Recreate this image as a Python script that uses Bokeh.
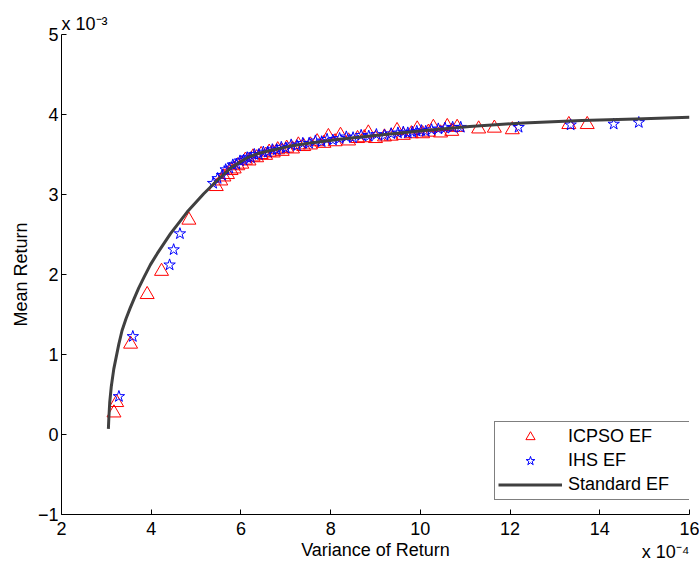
from bokeh.plotting import figure
from bokeh.models import FixedTicker, Range1d, Title
from bokeh.embed import file_html
from bokeh.resources import INLINE

# ---- data (variance in units of 1e-4, mean return in units of 1e-3) ----
x_ticks = [2, 4, 6, 8, 10, 12, 14, 16]
y_ticks = [-1, 0, 1, 2, 3, 4, 5]

std_var = [3.045, 3.055, 3.075, 3.11, 3.166, 3.278, 3.35, 3.44, 3.53, 3.612, 3.72,
           3.835, 3.98, 4.133, 4.43, 4.80, 5.17, 5.47, 5.77, 6.14, 6.40, 6.66, 7.10,
           7.55, 8.2, 9.1, 10.1, 11.1, 12.3, 13.6, 14.8, 16.0]
std_ret = [0.07, 0.20, 0.40, 0.60, 0.82, 1.13, 1.30, 1.45, 1.58, 1.69, 1.83,
           1.96, 2.12, 2.26, 2.51, 2.78, 3.01, 3.175, 3.33, 3.46, 3.515, 3.55, 3.605,
           3.645, 3.69, 3.745, 3.80, 3.85, 3.895, 3.925, 3.945, 3.965]

icpso_var = [3.17, 3.23, 3.54, 3.91, 4.23, 4.84,
             5.45, 5.55, 5.62, 5.70, 5.78, 5.85, 5.93, 6.02, 6.10, 6.18, 6.27, 6.35,
             6.45, 6.55, 6.63, 6.72, 6.82, 6.92, 7.02, 7.15, 7.28, 7.40, 7.55, 7.70,
             7.85, 7.95, 8.10, 8.22, 8.40, 8.60, 8.75, 8.84, 9.00, 9.20, 9.35, 9.48,
             9.62, 9.80, 9.93, 10.05, 10.18, 10.29, 10.45, 10.60, 10.70, 10.82,
             11.30, 11.65, 12.05, 13.31, 13.72]
icpso_ret = [0.27, 0.40, 1.13, 1.75, 2.04, 2.68,
             3.10, 3.17, 3.22, 3.25, 3.30, 3.32, 3.36, 3.38, 3.43, 3.42, 3.47, 3.46,
             3.50, 3.49, 3.53, 3.52, 3.56, 3.54, 3.58, 3.57, 3.62, 3.60, 3.62, 3.66,
             3.64, 3.725, 3.66, 3.74, 3.67, 3.70, 3.71, 3.77, 3.70, 3.72, 3.73, 3.80,
             3.74, 3.76, 3.82, 3.76, 3.78, 3.84, 3.77, 3.85, 3.79, 3.84,
             3.82, 3.83, 3.81, 3.875, 3.875]

ihs_var = [3.28, 3.59, 4.41, 4.50, 4.64,
           5.38, 5.48, 5.58, 5.66, 5.74, 5.82, 5.90, 5.98, 6.06, 6.14, 6.22, 6.30,
           6.40, 6.50, 6.60, 6.70, 6.80, 6.90, 7.00, 7.12, 7.25, 7.38, 7.52, 7.66,
           7.80, 7.92, 8.05, 8.20, 8.35, 8.50, 8.68, 8.85, 9.02, 9.20, 9.35, 9.50,
           9.62, 9.72, 9.82, 9.92, 10.02, 10.12, 10.25, 10.40, 10.55, 10.72, 10.90,
           12.19, 13.35, 14.31, 14.87]
ihs_ret = [0.475, 1.225, 2.12, 2.31, 2.51,
           3.14, 3.20, 3.24, 3.31, 3.33, 3.37, 3.38, 3.42, 3.43, 3.46, 3.46, 3.50,
           3.50, 3.53, 3.53, 3.56, 3.56, 3.59, 3.58, 3.62, 3.61, 3.64, 3.64, 3.67,
           3.66, 3.69, 3.68, 3.70, 3.72, 3.71, 3.74, 3.73, 3.75, 3.74, 3.76, 3.77,
           3.78, 3.77, 3.78, 3.79, 3.80, 3.79, 3.81, 3.82, 3.83, 3.84, 3.84,
           3.84, 3.87, 3.88, 3.90]

y_exponent = "x 10\u207b\u00b3"
x_exponent = "x 10\u207b\u2074"

FONT = "Liberation Sans"
FS = "18px"

p = figure(width=699, height=569, output_backend="svg", toolbar_location=None,
           x_range=Range1d(2, 16), y_range=Range1d(-1, 5),
           min_border_left=61, min_border_right=10, min_border_top=34, min_border_bottom=55,
           title=Title(text=y_exponent, align="left", text_font=FONT, text_font_size=FS,
                       text_font_style="normal", text_color="black", standoff=2))

p.scatter(icpso_var, icpso_ret, marker="triangle", size=14, line_color="#ff0000",
          fill_color=None, line_width=1, legend_label="ICPSO EF")
p.scatter(ihs_var, ihs_ret, marker="star", size=12, line_color="#0000ff",
          fill_color=None, line_width=1, legend_label="IHS EF")
p.line(std_var, std_ret, line_color="#404040", line_width=3, line_join="round",
       legend_label="Standard EF")

p.grid.visible = False
p.outline_line_color = None
p.background_fill_color = "white"
p.border_fill_color = "white"

p.xaxis.ticker = FixedTicker(ticks=x_ticks)
p.yaxis.ticker = FixedTicker(ticks=y_ticks)
for ax in (p.xaxis[0], p.yaxis[0]):
    ax.major_tick_in = 5
    ax.major_tick_out = 0
    ax.minor_tick_in = 0
    ax.minor_tick_out = 0
    ax.axis_line_color = "black"
    ax.major_tick_line_color = "black"
    ax.major_label_text_font = FONT
    ax.major_label_text_font_size = FS
    ax.major_label_text_color = "black"
    ax.axis_label_text_font = FONT
    ax.axis_label_text_font_size = FS
    ax.axis_label_text_font_style = "normal"
    ax.axis_label_text_color = "black"

p.xaxis.axis_label = "Variance of Return"
p.yaxis.axis_label = "Mean Return"
p.xaxis.major_label_standoff = 7
p.xaxis.axis_label_standoff = 2
p.yaxis.major_label_standoff = 3
p.yaxis.axis_label_standoff = 4

# x exponent: a right-aligned title under the x axis, pulled up beside the axis label
p.add_layout(Title(text=x_exponent, align="right", vertical_align="top", standoff=-42,
                   text_font=FONT, text_font_size=FS, text_font_style="normal",
                   text_color="black"), "below")

lg = p.legend[0]
lg.location = (433, 14)
lg.border_line_color = "black"
lg.border_line_width = 1
lg.background_fill_color = "white"
lg.background_fill_alpha = 1
lg.label_text_font = FONT
lg.label_text_font_size = FS
lg.label_text_color = "black"
lg.padding = 3
lg.spacing = 1
lg.margin = 0
lg.glyph_width = 64
lg.glyph_height = 23
lg.label_height = 23
lg.label_width = 118
lg.label_standoff = 6

open("out.html", "w").write(file_html(p, INLINE))
